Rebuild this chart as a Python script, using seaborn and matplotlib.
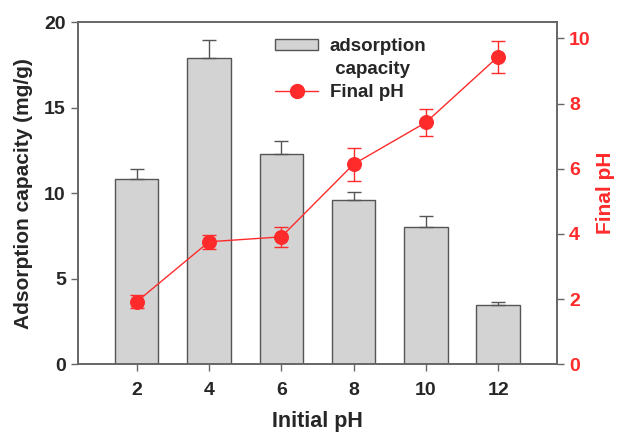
import matplotlib
matplotlib.use("Agg")
import matplotlib.pyplot as plt
import seaborn as sns
import numpy as np
import pandas as pd
from matplotlib.patches import Patch
from matplotlib.lines import Line2D

initial_ph = [2, 4, 6, 8, 10, 12]
adsorption = [10.84, 17.89, 12.28, 9.61, 8.01, 3.49]
adsorption_err = [0.60, 1.07, 0.78, 0.47, 0.66, 0.17]
final_ph = [1.92, 3.76, 3.91, 6.14, 7.42, 9.44]
final_ph_err = [0.20, 0.22, 0.30, 0.51, 0.42, 0.49]
legend_labels = ['adsorption', ' capacity', 'Final pH']

sns.set_style("white")
plt.rcParams['font.family'] = ['Liberation Sans', 'DejaVu Sans']
plt.rcParams['font.weight'] = 'bold'

RED = '#ff2b2b'
SPINE = '#666666'

df = pd.DataFrame({'ph': initial_ph, 'ads': adsorption, 'fin': final_ph})

fig = plt.figure(figsize=(6.17, 4.33), dpi=100)
ax = fig.add_axes([0.127, 0.1586, 0.775, 0.7905])

sns.barplot(data=df, x='ph', y='ads', native_scale=True, width=0.6,
            color='#d3d3d3', edgecolor='#555555', linewidth=1.0,
            errorbar=None, saturation=1, ax=ax)
ax.errorbar(initial_ph, adsorption,
            yerr=[np.zeros(len(adsorption_err)), adsorption_err],
            fmt='none', ecolor='#555555', elinewidth=1.0, capsize=5, capthick=1.0, zorder=1)

ax.set_xlim(0.385, 13.615)
ax.set_ylim(0, 20)
ax.set_xticks(initial_ph)
ax.set_xticklabels([str(v) for v in initial_ph])
ax.set_yticks([0, 5, 10, 15, 20])
ax.set_xlabel('Initial pH', fontsize=15.5, fontweight='bold')
ax.xaxis.set_label_coords(0.5, -0.135)
ax.set_ylabel('Adsorption capacity (mg/g)', fontsize=15, fontweight='bold', labelpad=8)
ax.tick_params(axis='both', which='major', labelsize=14, direction='out',
               length=5, width=1, color=SPINE, pad=4)
ax.tick_params(axis='x', pad=8)
ax.tick_params(left=True, bottom=True)
for lab in ax.get_xticklabels() + ax.get_yticklabels():
    lab.set_fontweight('bold')

ax2 = ax.twinx()
sns.lineplot(data=df, x='ph', y='fin', color=RED, linewidth=1.0, marker='o',
             markersize=10, markeredgecolor=RED, ax=ax2, zorder=5)
ax2.errorbar(initial_ph, final_ph, yerr=final_ph_err, fmt='none', ecolor=RED,
             elinewidth=1.0, capsize=5, capthick=1.0, zorder=4)
ax2.set_ylim(0, 10.5)
ax2.set_yticks([0, 2, 4, 6, 8, 10])
ax2.set_ylabel('Final pH', fontsize=15, fontweight='bold', color=RED)
ax2.yaxis.label.set_va('center')
ax2.yaxis.label.set_ha('center')
ax2.yaxis.set_label_coords(1.102, 0.5)
ax2.tick_params(axis='y', labelsize=14, labelcolor=RED, direction='out',
                length=5, width=1, color=SPINE, pad=4, right=True)
for lab in ax2.get_yticklabels():
    lab.set_fontweight('bold')
ax2.set_xlabel('')

for a in (ax, ax2):
    for s in a.spines.values():
        s.set_color(SPINE)
        s.set_linewidth(1.2)

handles = [Patch(facecolor='#d3d3d3', edgecolor='#555555', linewidth=1.0),
           Line2D([], [], linestyle='none'),
           Line2D([0], [0], color=RED, marker='o', markersize=10, linewidth=1.0)]
leg = ax2.legend(handles, legend_labels, loc='upper left', bbox_to_anchor=(0.412, 0.952),
                 frameon=False, prop={'size': 13.5, 'weight': 'bold'},
                 handlelength=2.3, handleheight=0.55, handletextpad=0.6,
                 labelspacing=0.3, borderaxespad=0, borderpad=0)

fig.savefig('out.png', dpi=100)
